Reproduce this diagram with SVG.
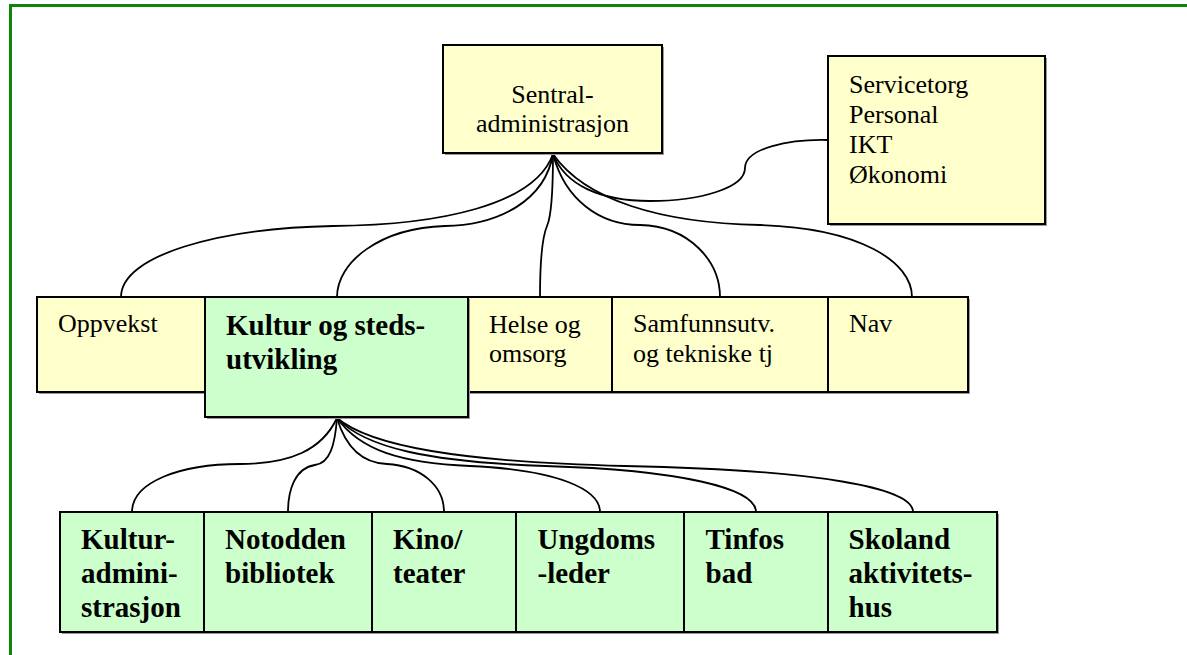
<svg xmlns="http://www.w3.org/2000/svg" width="1187" height="655" viewBox="0 0 1187 655">
<style>
.frame{fill:none;stroke:#0a870a;stroke-width:3}
.sh{fill:#9a9a9a}
.y{fill:#ffffcc;stroke:#000;stroke-width:2}
.g{fill:#ccffcc;stroke:#000;stroke-width:2}
.c{fill:none;stroke:#000;stroke-width:1.8}
.t{font-family:'Liberation Serif','Times New Roman',serif;font-size:26px;fill:#000}
.b{font-family:'Liberation Serif','Times New Roman',serif;font-size:29px;font-weight:bold;fill:#000}
</style>
<rect width="1187" height="655" fill="#fff"/>
<path class="frame" d="M10.5,655 V5.5 H1187"/>
<g id="connectors">
<path class="c" d="M828,140 C790,139 745,148 745,168 C745,188 700,201 650,201 C600,201 565,185 553,154"/>
<path class="c" d="M553,154 C535,205 440,225 333,226 C220,228 121,255 121,297"/>
<path class="c" d="M553,154 C545,200 500,225 445,226 C380,228 337,262 337,297"/>
<path class="c" d="M553,154 C553,190 552,215 547,226 C541,240 540,270 540,297"/>
<path class="c" d="M553,154 C565,200 600,225 640,225 C690,226 720,262 720,297"/>
<path class="c" d="M553,154 C585,200 660,223 760,225 C860,228 912,262 912,297"/>
<path class="c" d="M337,418 C322,450 290,464 240,464 C180,464 132,482 132,512"/>
<path class="c" d="M337,418 C335,445 330,463 315,465 C295,468 288,490 288,512"/>
<path class="c" d="M337,418 C345,445 360,463 387,464 C420,466 444,485 444,512"/>
<path class="c" d="M337,418 C360,450 400,463 470,466 C560,470 600,490 600,512"/>
<path class="c" d="M337,418 C365,448 430,462 545,466 C680,470 756,488 756,512"/>
<path class="c" d="M337,418 C370,446 460,462 625,466 C820,470 913,488 913,512"/>
</g>
<g id="sentral">
<rect class="sh" x="445" y="47" width="219" height="108"/>
<rect class="y" x="443" y="45" width="219" height="108"/>
<text class="t" x="552.5" y="103" text-anchor="middle">Sentral-</text>
<text class="t" x="552.5" y="132" text-anchor="middle">administrasjon</text>
</g>
<g id="service">
<rect class="sh" x="830" y="58" width="217" height="168"/>
<rect class="y" x="828" y="56" width="217" height="168"/>
<text class="t" x="849" y="93">Servicetorg</text>
<text class="t" x="849" y="123">Personal</text>
<text class="t" x="849" y="153">IKT</text>
<text class="t" x="849" y="183">Økonomi</text>
</g>
<g id="oppvekst">
<rect class="sh" x="39" y="299" width="168" height="95"/>
<rect class="y" x="37" y="297" width="168" height="95"/>
<text class="t" x="58" y="332">Oppvekst</text>
</g>
<g id="helse">
<rect class="sh" x="470" y="299" width="144" height="95"/>
<rect class="y" x="468" y="297" width="144" height="95"/>
<text class="t" x="489" y="333">Helse og</text>
<text class="t" x="489" y="362">omsorg</text>
</g>
<g id="samfunn">
<rect class="sh" x="614" y="299" width="216" height="95"/>
<rect class="y" x="612" y="297" width="216" height="95"/>
<text class="t" x="633" y="332">Samfunnsutv.</text>
<text class="t" x="633" y="362">og tekniske tj</text>
</g>
<g id="nav">
<rect class="sh" x="830" y="299" width="140" height="95"/>
<rect class="y" x="828" y="297" width="140" height="95"/>
<text class="t" x="849" y="332">Nav</text>
</g>
<g id="kultur">
<rect class="sh" x="207" y="299" width="263" height="120"/>
<rect class="g" x="205" y="297" width="263" height="120"/>
<text class="b" x="226" y="335">Kultur og steds-</text>
<text class="b" x="226" y="369">utvikling</text>
</g>
<g id="kulturadm">
<rect class="sh" x="62" y="514" width="144" height="120"/>
<rect class="g" x="60" y="512" width="144" height="120"/>
<text class="b" x="81" y="549">Kultur-</text>
<text class="b" x="81" y="583">admini-</text>
<text class="b" x="81" y="617">strasjon</text>
</g>
<g id="bibliotek">
<rect class="sh" x="206" y="514" width="168" height="120"/>
<rect class="g" x="204" y="512" width="168" height="120"/>
<text class="b" x="225" y="549">Notodden</text>
<text class="b" x="225" y="583">bibliotek</text>
</g>
<g id="kino">
<rect class="sh" x="374" y="514" width="144" height="120"/>
<rect class="g" x="372" y="512" width="144" height="120"/>
<text class="b" x="393" y="549">Kino/</text>
<text class="b" x="393" y="583">teater</text>
</g>
<g id="ungdom">
<rect class="sh" x="518" y="514" width="168" height="120"/>
<rect class="g" x="516" y="512" width="168" height="120"/>
<text class="b" x="537.5" y="549">Ungdoms</text>
<text class="b" x="537.5" y="583">-leder</text>
</g>
<g id="tinfos">
<rect class="sh" x="686" y="514" width="144" height="120"/>
<rect class="g" x="684" y="512" width="144" height="120"/>
<text class="b" x="705.5" y="549">Tinfos</text>
<text class="b" x="705.5" y="583">bad</text>
</g>
<g id="skoland">
<rect class="sh" x="830" y="514" width="169" height="120"/>
<rect class="g" x="828" y="512" width="169" height="120"/>
<text class="b" x="848.5" y="549">Skoland</text>
<text class="b" x="848.5" y="583">aktivitets-</text>
<text class="b" x="848.5" y="617">hus</text>
</g>
</svg>
